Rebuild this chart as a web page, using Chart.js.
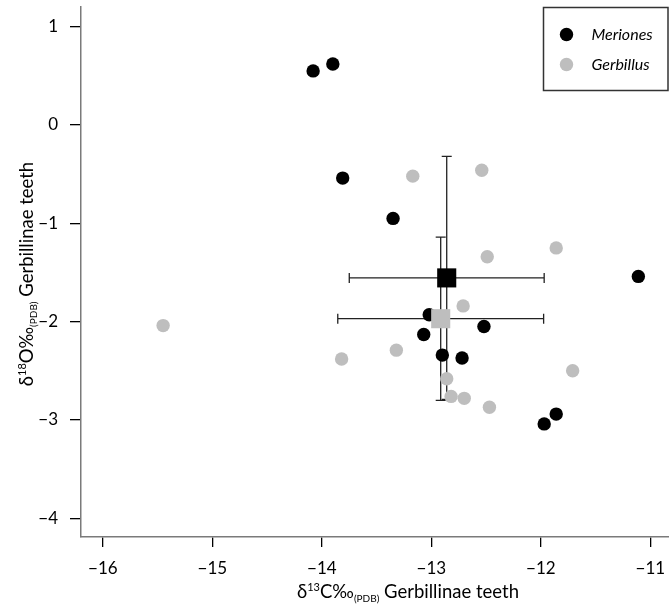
<!DOCTYPE html>
<html lang="en">
<head>
<meta charset="UTF-8">
<title>Gerbillinae teeth - stable isotopes</title>
<script src="https://cdn.jsdelivr.net/npm/chart.js"></script>
<style>
  * { margin: 0; padding: 0; box-sizing: border-box; }
  body { background: #fff; }
  #wrap { width: 669px; height: 613px; position: relative; }
</style>
</head>
<body>
<div id="wrap"><canvas id="isoChart"></canvas></div>
<script>
// per-specimen values: δ13C (x) and δ18O (y)
const merionesC = [-14.08, -13.90, -13.81, -13.35, -11.11, -13.02, -12.52, -13.07, -12.90, -12.72, -11.86, -11.97];
const merionesO = [0.55, 0.62, -0.54, -0.95, -1.54, -1.93, -2.05, -2.13, -2.34, -2.37, -2.94, -3.04];
const gerbillusC = [-15.45, -13.17, -12.54, -12.49, -11.86, -12.71, -13.32, -13.82, -11.71, -12.86, -12.82, -12.70, -12.47];
const gerbillusO = [-2.04, -0.52, -0.46, -1.34, -1.25, -1.84, -2.29, -2.38, -2.50, -2.58, -2.76, -2.78, -2.87];

// group mean ± 1 SD, order: Meriones, Gerbillus
const groups = ['Meriones', 'Gerbillus'];
const meanC = [-12.86, -12.915];
const meanO = [-1.555, -1.97];
const sdC = [0.89, 0.94];
const sdO = [1.235, 0.83];

const xTicks = [-16, -15, -14, -13, -12, -11];
const yTicks = [1, 0, -1, -2, -3, -4];

const colours = ['#000000', '#bebebe'];
const FONT = 'Lato, "Open Sans", sans-serif';

const toPoints = (xs, ys) => xs.map((v, i) => ({ x: v, y: ys[i] }));
const minus = v => String(v).replace('-', '\u2212');
const noPad = () => ({ left: 0, top: 0, right: 0, bottom: 0 });

// mean ± SD crosses, drawn under the markers
const errorBars = {
  id: 'errorBars',
  beforeDatasetsDraw(chart) {
    const { ctx, scales: { x, y } } = chart;
    const cap = 5;
    ctx.save();
    ctx.strokeStyle = '#222';
    ctx.lineWidth = 1.3;
    meanC.forEach((mc, i) => {
      const px = x.getPixelForValue(mc);
      const py = y.getPixelForValue(meanO[i]);
      const x0 = x.getPixelForValue(mc - sdC[i]);
      const x1 = x.getPixelForValue(mc + sdC[i]);
      const y0 = y.getPixelForValue(meanO[i] + sdO[i]);
      const y1 = y.getPixelForValue(meanO[i] - sdO[i]);
      ctx.beginPath();
      ctx.moveTo(x0, py); ctx.lineTo(x1, py);
      ctx.moveTo(x0, py - cap); ctx.lineTo(x0, py + cap);
      ctx.moveTo(x1, py - cap); ctx.lineTo(x1, py + cap);
      ctx.moveTo(px, y0); ctx.lineTo(px, y1);
      ctx.moveTo(px - cap, y0); ctx.lineTo(px + cap, y0);
      ctx.moveTo(px - cap, y1); ctx.lineTo(px + cap, y1);
      ctx.stroke();
    });
    ctx.restore();
  }
};

// text runs with super/subscripts
const runFont = k => (k === 'n' ? '18.5px ' : k === 'sup' ? '11px ' : '10px ') + FONT;
function richWidth(ctx, parts) {
  let w = 0;
  parts.forEach(p => {
    ctx.font = runFont(p[1]);
    w += ctx.measureText(p[0]).width;
  });
  return w;
}
function drawRich(ctx, parts, x, y) {
  parts.forEach(p => {
    ctx.font = runFont(p[1]);
    const dy = p[1] === 'sup' ? -7.5 : p[1] === 'sub' ? 4 : 0;
    ctx.fillText(p[0], x, y + dy);
    x += ctx.measureText(p[0]).width;
  });
}

const titles = {
  id: 'titles',
  afterDraw(chart) {
    const { ctx, chartArea } = chart;
    const xParts = [['\u03b4', 'n'], ['13', 'sup'], ['C\u2030', 'n'], ['(PDB)', 'sub'], [' Gerbillinae teeth', 'n']];
    const yParts = [['\u03b4', 'n'], ['18', 'sup'], ['O\u2030', 'n'], ['(PDB)', 'sub'], [' Gerbillinae teeth', 'n']];
    ctx.save();
    ctx.fillStyle = '#000';
    ctx.textBaseline = 'alphabetic';
    ctx.textAlign = 'left';
    const xw = richWidth(ctx, xParts);
    drawRich(ctx, xParts, 408 - xw / 2, 598);
    const yw = richWidth(ctx, yParts);
    const cy = (chartArea.top + chartArea.bottom) / 2 + 2;
    ctx.translate(33, cy);
    ctx.rotate(-Math.PI / 2);
    drawRich(ctx, yParts, -yw / 2, 0);
    ctx.restore();
  }
};

// boxed legend in the top right corner
const boxLegend = {
  id: 'boxLegend',
  afterDraw(chart) {
    const { ctx } = chart;
    const left = 543.5, top = 7.5, w = 124.5, h = 83;
    ctx.save();
    ctx.strokeStyle = '#333';
    ctx.lineWidth = 1.5;
    ctx.strokeRect(left, top, w, h);
    ctx.font = 'italic 16px ' + FONT;
    ctx.textBaseline = 'middle';
    groups.forEach((g, i) => {
      const cy = top + 27 + i * 30;
      ctx.fillStyle = colours[i];
      ctx.beginPath();
      ctx.arc(left + 23, cy, 6.7, 0, Math.PI * 2);
      ctx.fill();
      ctx.fillStyle = '#000';
      ctx.fillText(g, left + 48, cy);
    });
    ctx.restore();
  }
};

new Chart(document.getElementById('isoChart'), {
  type: 'scatter',
  data: {
    datasets: [
      { label: 'Gerbillus mean', data: [{ x: meanC[1], y: meanO[1] }], backgroundColor: colours[1],
        pointStyle: 'rect', pointRadius: 13.5, borderWidth: 0 },
      { label: 'Meriones mean', data: [{ x: meanC[0], y: meanO[0] }], backgroundColor: colours[0],
        pointStyle: 'rect', pointRadius: 13.5, borderWidth: 0 },
      { label: groups[1], data: toPoints(gerbillusC, gerbillusO), backgroundColor: colours[1],
        pointRadius: 6.7, borderWidth: 0 },
      { label: groups[0], data: toPoints(merionesC, merionesO), backgroundColor: colours[0],
        pointRadius: 6.7, borderWidth: 0 }
    ]
  },
  options: {
    responsive: true,
    maintainAspectRatio: false,
    animation: false,
    // big mean markers must not push the plot area inwards
    layout: { autoPadding: false, padding: { left: 0, top: 7, right: 0, bottom: 0 } },
    plugins: { legend: { display: false }, tooltip: { enabled: false } },
    scales: {
      x: {
        type: 'linear',
        min: -16.2,
        max: -10.83,
        // fixed axis band; outer tick labels get no extra room
        afterFit: s => { s.height = 76; s.getPadding = noPad; },
        afterBuildTicks: s => { s.ticks = xTicks.map(v => ({ value: v })); },
        grid: { drawOnChartArea: false, tickLength: 10, color: '#000', lineWidth: 1.3 },
        border: { color: '#7a7a7a', width: 1.5 },
        ticks: { color: '#000', font: { family: FONT, size: 17 }, padding: 11, callback: minus }
      },
      y: {
        type: 'linear',
        min: -4.19,
        max: 1.2,
        afterFit: s => { s.width = 81; s.getPadding = noPad; },
        afterBuildTicks: s => { s.ticks = yTicks.map(v => ({ value: v })); },
        grid: { drawOnChartArea: false, tickLength: 11, color: '#000', lineWidth: 1.3 },
        border: { color: '#7a7a7a', width: 1.5 },
        ticks: { color: '#000', font: { family: FONT, size: 17 }, padding: 12, callback: minus }
      }
    }
  },
  plugins: [errorBars, titles, boxLegend]
});
</script>
</body>
</html>
